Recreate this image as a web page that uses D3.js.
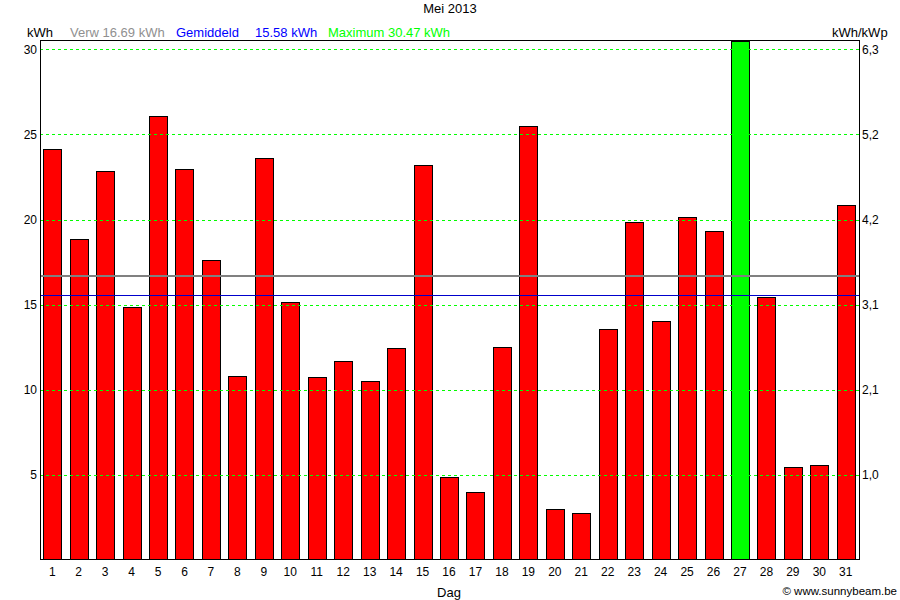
<!DOCTYPE html>
<html>
<head>
<meta charset="utf-8">
<script src="https://cdn.jsdelivr.net/npm/d3@7"></script>
<style>
  html, body { margin: 0; padding: 0; background: #fff; }
  svg text { font-family: "Liberation Sans", Arial, sans-serif; font-size: 12px; }
  .legend { font-size: 13px; }
</style>
</head>
<body>
<svg id="chart" width="900" height="600"></svg>
<script>
// ---- data ----
const days = d3.range(1, 32);
const kwh = [24.12, 18.83, 22.88, 14.84, 26.07, 23.0, 17.6, 10.79, 23.59, 15.13,
             10.73, 11.67, 10.49, 12.43, 23.18, 4.86, 3.97, 12.49, 25.52, 2.97,
             2.74, 13.55, 19.83, 14.07, 20.18, 19.3, 30.47, 15.43, 5.44, 5.56, 20.85];
const leftTicks = [5, 10, 15, 20, 25, 30];
const rightTickLabels = ["1,0", "2,1", "3,1", "4,2", "5,2", "6,3"];
const expected = 16.69;
const average = 15.58;
const maximum = 30.47;
const title = "Mei 2013";

// ---- layout ----
const svg = d3.select("#chart");
const L = 40, R = 860, T = 40, B = 560;

const x = d3.scaleBand().domain(days).range([L - 1, R - 1]).paddingInner(0.32).paddingOuter(0.16);
const y = d3.scaleLinear().domain([0, 30.55]).range([B, T]);

svg.append("clipPath").attr("id", "plotclip")
  .append("rect").attr("x", L).attr("y", T).attr("width", R - L).attr("height", B - T);

// bars
svg.append("g").attr("clip-path", "url(#plotclip)")
  .selectAll("rect").data(days).join("rect")
  .attr("x", d => Math.round(x(d)) + 0.5)
  .attr("y", (d, i) => Math.round(y(kwh[i])) + 0.5)
  .attr("width", x.bandwidth())
  .attr("height", (d, i) => B - 1 - Math.round(y(kwh[i])))
  .attr("fill", (d, i) => kwh[i] === maximum ? "#00ff00" : "#ff0000")
  .attr("stroke", "#000")
  .attr("stroke-width", 1);

// gridlines
svg.append("g").selectAll("line").data(leftTicks).join("line")
  .attr("x1", L).attr("x2", R)
  .attr("y1", d => Math.round(y(d)) + 0.5).attr("y2", d => Math.round(y(d)) + 0.5)
  .attr("stroke", "#00ff00").attr("stroke-width", 1).attr("stroke-dasharray", "3,3");

// expected line (gray) & average line (blue)
svg.append("line").attr("x1", L).attr("x2", R)
  .attr("y1", y(expected)).attr("y2", y(expected))
  .attr("stroke", "#808080").attr("stroke-width", 2);
svg.append("line").attr("x1", L).attr("x2", R)
  .attr("y1", Math.round(y(average)) + 0.5).attr("y2", Math.round(y(average)) + 0.5)
  .attr("stroke", "#0000cc").attr("stroke-width", 1);

// frame
svg.append("rect").attr("x", L + 0.5).attr("y", T + 0.5)
  .attr("width", R - L - 1).attr("height", B - T - 1)
  .attr("fill", "none").attr("stroke", "#000").attr("stroke-width", 1);

// left axis labels
const leftAxis = d3.axisLeft(y).tickValues(leftTicks).tickSize(0).tickPadding(3);
const gl = svg.append("g").attr("transform", `translate(${L},0)`).call(leftAxis);
gl.select(".domain").remove();
gl.selectAll("text").attr("fill", "#000").style("font-size", "12px")
  .style("font-family", "'Liberation Sans', Arial, sans-serif");

// right axis labels
const rightAxis = d3.axisRight(y).tickValues(leftTicks).tickSize(0).tickPadding(2)
  .tickFormat((d, i) => rightTickLabels[i]);
const gr = svg.append("g").attr("transform", `translate(${R},0)`).call(rightAxis);
gr.select(".domain").remove();
gr.selectAll("text").attr("fill", "#000").style("font-size", "12px")
  .style("font-family", "'Liberation Sans', Arial, sans-serif");

// bottom axis labels
const bottomAxis = d3.axisBottom(x).tickSize(0).tickPadding(7);
const gb = svg.append("g").attr("transform", `translate(0,${B})`).call(bottomAxis);
gb.select(".domain").remove();
gb.selectAll("text").attr("fill", "#000").style("font-size", "12px")
  .style("font-family", "'Liberation Sans', Arial, sans-serif");

// titles & legend
svg.append("text").attr("class", "legend").attr("x", 450).attr("y", 13).attr("text-anchor", "middle").text(title);
svg.append("text").attr("class", "legend").attr("x", 27).attr("y", 37).text("kWh");
svg.append("text").attr("class", "legend").attr("x", 70).attr("y", 37).attr("fill", "#909090").text(`Verw ${expected.toFixed(2)} kWh`);
svg.append("text").attr("class", "legend").attr("x", 176).attr("y", 37).attr("fill", "#0000ff").text("Gemiddeld");
svg.append("text").attr("class", "legend").attr("x", 255).attr("y", 37).attr("fill", "#0000ff").text(`${average.toFixed(2)} kWh`);
svg.append("text").attr("class", "legend").attr("x", 328).attr("y", 37).attr("fill", "#00ff00").text(`Maximum ${maximum.toFixed(2)} kWh`);
svg.append("text").attr("class", "legend").attr("x", 832).attr("y", 37).text("kWh/kWp");
svg.append("text").attr("class", "legend").attr("x", 449).attr("y", 597).attr("text-anchor", "middle").text("Dag");
svg.append("text").attr("x", 897).attr("y", 595).attr("text-anchor", "end").style("font-size", "11.5px").text("© www.sunnybeam.be");
</script>
</body>
</html>
